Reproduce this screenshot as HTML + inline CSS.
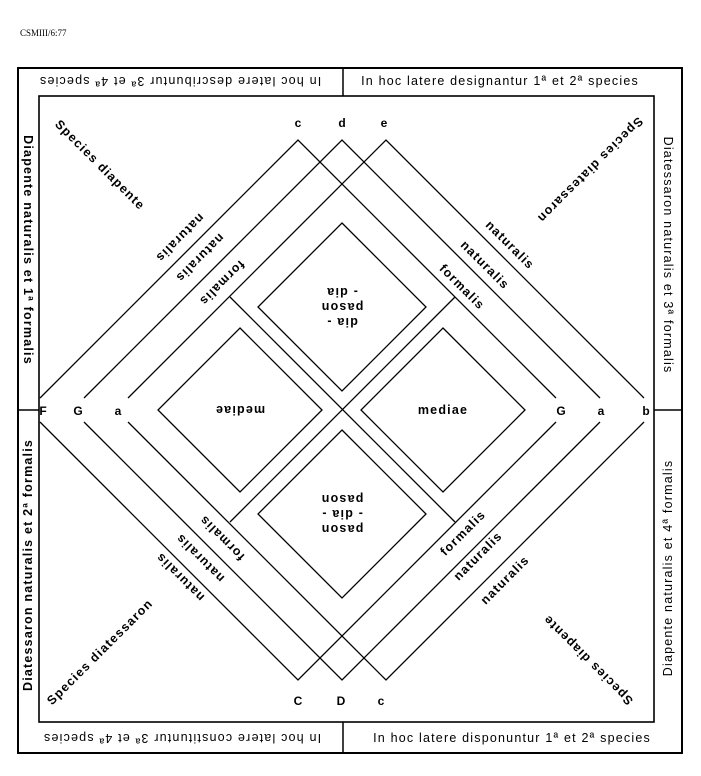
<!DOCTYPE html>
<html><head><meta charset="utf-8"><style>
html,body{margin:0;padding:0;background:#fff;}
svg{display:block;}
text{font-family:"Liberation Sans","DejaVu Sans",sans-serif;fill:#000;}
</style></head><body>
<svg width="701" height="776" viewBox="0 0 701 776" xmlns="http://www.w3.org/2000/svg">
<text x="20" y="36" font-size="9" style="font-family:'Liberation Serif',serif">CSMIII/6:77</text>
<g fill="none" stroke="#000">
<rect x="18" y="68" width="664" height="685" stroke-width="2"/>
<rect x="39" y="96" width="615" height="626" stroke-width="1.6"/>
<line x1="343" y1="68" x2="343" y2="96" stroke-width="1.5"/>
<line x1="343" y1="722" x2="343" y2="753" stroke-width="1.5"/>
<line x1="18" y1="410" x2="39" y2="410" stroke-width="1.5"/>
<line x1="654" y1="410" x2="682" y2="410" stroke-width="1.5"/>
<g stroke-width="1.3">
<polyline points="40,398 298,140 556,398"/>
<polyline points="40,422 298,680 556,422"/>
<polyline points="84,398 342,140 600,398"/>
<polyline points="84,422 342,680 600,422"/>
<polyline points="128,398 386,140 644,398"/>
<polyline points="128,422 386,680 644,422"/>
<line x1="230" y1="297" x2="455" y2="522"/>
<line x1="455" y1="297" x2="230" y2="522"/>
<polygon points="342,223 426,307 342,391 258,307"/>
<polygon points="342,430 426,514 342,598 258,514"/>
<polygon points="240,328 322,410 240,492 158,410"/>
<polygon points="443,328 525,410 443,492 361,410"/>
</g>
</g>
<g font-size="12" font-weight="bold" text-anchor="middle">
<text x="298" y="127">c</text>
<text x="342" y="127">d</text>
<text x="384" y="127">e</text>
<text x="43" y="415">F</text>
<text x="78" y="415">G</text>
<text x="118" y="415">a</text>
<text x="561" y="415">G</text>
<text x="601" y="415">a</text>
<text x="646" y="415">b</text>
<text x="298" y="705">C</text>
<text x="341" y="705">D</text>
<text x="381" y="705">c</text>
</g>
<g font-size="12.5" text-anchor="middle" letter-spacing="1.2" dominant-baseline="central" font-weight="bold">
<text transform="translate(180,81) rotate(180)" font-weight="normal">In hoc latere  describuntur 3ª et 4ª species</text>
<text transform="translate(500,81)" font-weight="normal">In hoc latere designantur 1ª et 2ª species</text>
<text transform="translate(182,738) rotate(180)" font-weight="normal">In hoc latere constituntur 3ª et 4ª species</text>
<text transform="translate(512,738)" font-weight="normal">In hoc latere  disponuntur 1ª et 2ª species</text>
<text transform="translate(28,250) rotate(90)">Diapente  naturalis  et  1ª  formalis</text>
<text transform="translate(28,565) rotate(-90)">Diatessaron  naturalis  et 2ª formalis</text>
<text transform="translate(668,255) rotate(90)" font-weight="normal">Diatessaron  naturalis  et  3ª  formalis</text>
<text transform="translate(668,568) rotate(-90)" font-weight="normal">Diapente  naturalis  et  4ª  formalis</text>
<text transform="translate(100,165) rotate(45)">Species  diapente</text>
<text transform="translate(590,170) rotate(135)">Species diatessaron</text>
<text transform="translate(100,652) rotate(-45)">Species diatessaron</text>
<text transform="translate(588,660) rotate(225)">Species diapente</text>
<text transform="translate(180,238) rotate(135)">naturalis</text>
<text transform="translate(200,258) rotate(135)">naturalis</text>
<text transform="translate(222,283) rotate(135)">formalis</text>
<text transform="translate(510,245) rotate(45)">naturalis</text>
<text transform="translate(485,265) rotate(45)">naturalis</text>
<text transform="translate(462,287) rotate(45)">formalis</text>
<text transform="translate(463,533) rotate(-45)">formalis</text>
<text transform="translate(478,556) rotate(-45)">naturalis</text>
<text transform="translate(505,580) rotate(-45)">naturalis</text>
<text transform="translate(222,538) rotate(225)">formalis</text>
<text transform="translate(200,558) rotate(225)">naturalis</text>
<text transform="translate(180,577) rotate(225)">naturalis</text>
<text transform="translate(240,410) rotate(180)">mediae</text>
<text transform="translate(443,410)">mediae</text>
<g transform="translate(342,307) rotate(180)">
<text x="0" y="-15">dia -</text>
<text x="0" y="0">pason</text>
<text x="0" y="15">- dia</text>
</g>
<g transform="translate(342,514) rotate(180)">
<text x="0" y="-15">pason</text>
<text x="0" y="0">- dia -</text>
<text x="0" y="15">pason</text>
</g>
</g>
</svg>
</body></html>
